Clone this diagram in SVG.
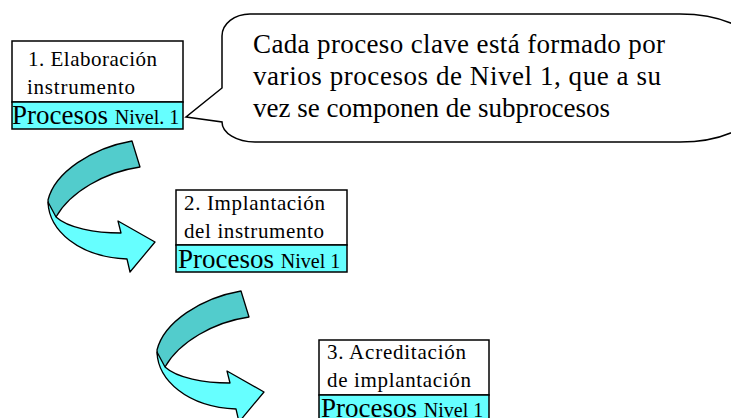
<svg xmlns="http://www.w3.org/2000/svg" width="731" height="418" viewBox="0 0 731 418">
<style>
.box{fill:#ffffff;stroke:#000;stroke-width:1.5}
.band{fill:#66ffff;stroke:#000;stroke-width:1.5}
.t{font-family:"Liberation Serif","Times New Roman",serif;font-size:21px;fill:#000}
.p{font-family:"Liberation Serif","Times New Roman",serif;font-size:27px;fill:#000}
.n{font-family:"Liberation Serif","Times New Roman",serif;font-size:20px;fill:#000}
.c{font-family:"Liberation Serif","Times New Roman",serif;font-size:27px;fill:#000}
.dark{fill:#52cccc;stroke:#000;stroke-width:1.3;stroke-linejoin:round}
.light{fill:#66ffff;stroke:#000;stroke-width:1.3;stroke-linejoin:round}
</style>
<defs>
<g id="curved">
<path class="dark" d="M132,141 L140,167 C105,172 70,192 56,217 C50,212 48,206 48,200 C55,172 92,148 132,141 Z"/>
<path class="light" d="M48,202 C49,230 78,257 127,259 L130,272 L155,242 L118,221 L121,233 C95,233 68,228 56,217 Z"/>
</g>
</defs>
<g id="callout">
<path d="M222,36 A28,22 0 0 1 250,14 L680,14 A80,40 0 0 1 760,54 L760,102 A80,40 0 0 1 680,142 L255,142 A33,20 0 0 1 222,122 L186,117 L222,88 Z" fill="#ffffff" stroke="#000" stroke-width="1.5"/>
<text class="c" x="253" y="53" textLength="412" lengthAdjust="spacing">Cada proceso clave está formado por</text>
<text class="c" x="253" y="85" textLength="408" lengthAdjust="spacing">varios procesos de Nivel 1, que a su</text>
<text class="c" x="253" y="117">vez se componen de subprocesos</text>
</g>
<g id="connectors">
<use href="#curved"/>
<use href="#curved" transform="translate(109,150)"/>
</g>
<g id="node1">
<rect class="box" x="12" y="41" width="171" height="61"/>
<rect class="band" x="12" y="102" width="171" height="27"/>
<text class="t" x="28" y="66" textLength="129" lengthAdjust="spacing">1. Elaboración</text>
<text class="t" x="27" y="94" textLength="108" lengthAdjust="spacing">instrumento</text>
<text class="p" x="12" y="124">Procesos <tspan class="n">Nivel. 1</tspan></text>
</g>
<g id="node2">
<rect class="box" x="176" y="190" width="171" height="55"/>
<rect class="band" x="176" y="245" width="171" height="27"/>
<text class="t" x="184" y="210" textLength="141" lengthAdjust="spacing">2. Implantación</text>
<text class="t" x="184" y="238" textLength="140" lengthAdjust="spacing">del instrumento</text>
<text class="p" x="178" y="268">Procesos <tspan class="n">Nivel 1</tspan></text>
</g>
<g id="node3">
<rect class="box" x="319" y="340" width="170" height="55"/>
<rect class="band" x="319" y="395" width="170" height="30"/>
<text class="t" x="327" y="359" textLength="139" lengthAdjust="spacing">3. Acreditación</text>
<text class="t" x="327" y="387" textLength="144" lengthAdjust="spacing">de implantación</text>
<text class="p" x="321" y="417">Procesos <tspan class="n">Nivel 1</tspan></text>
</g>
</svg>
